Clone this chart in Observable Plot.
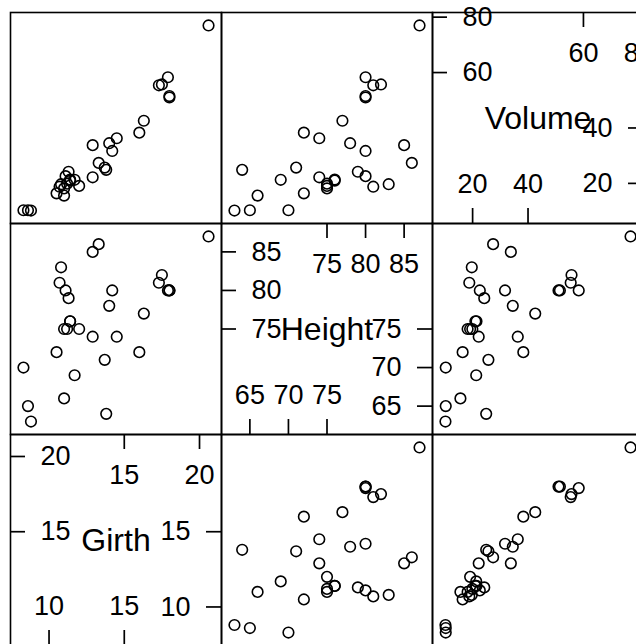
<!DOCTYPE html>
<html>
<head>
<meta charset="utf-8">
<script src="https://cdn.jsdelivr.net/npm/d3@7"></script>
<script src="https://cdn.jsdelivr.net/npm/@observablehq/plot@0.6"></script>
<style>
  html, body { margin: 0; padding: 0; background: white; }
  #chart { position: relative; width: 636px; height: 644px; overflow: hidden; background: white; }
  .panel { position: absolute; width: 211px; height: 211px; }
  .panel svg { overflow: visible !important; background: none !important; max-width: none !important; }
</style>
</head>
<body>
<div id="chart"></div>
<script>
// trees data
const girth  = [8.3, 8.6, 8.8, 10.5, 10.7, 10.8, 11.0, 11.0, 11.1, 11.2, 11.3, 11.4, 11.4, 11.7, 12.0, 12.9, 12.9, 13.3, 13.7, 13.8, 14.0, 14.2, 14.5, 16.0, 16.3, 17.3, 17.5, 17.9, 18.0, 18.0, 20.6];
const height = [70, 65, 63, 72, 81, 83, 66, 75, 80, 75, 79, 76, 76, 69, 75, 74, 85, 86, 71, 64, 78, 80, 74, 72, 77, 81, 82, 80, 80, 80, 87];
const volume = [10.3, 10.3, 10.2, 16.4, 18.8, 19.7, 15.6, 18.2, 22.6, 19.9, 24.2, 21.0, 21.4, 21.3, 19.1, 22.2, 33.8, 27.4, 25.7, 24.9, 34.5, 31.7, 36.3, 38.3, 42.6, 55.4, 55.7, 58.3, 51.5, 51.0, 77.0];

const varNames = ["Girth", "Height", "Volume"];
const girthTicks  = [10, 15, 20];
const heightTicks = [65, 70, 75, 80, 85];
const volumeTicks = [20, 40, 60, 80];

const columns = [girth, height, volume];
const tickSets = [girthTicks, heightTicks, volumeTicks];

const FONT = "'Liberation Sans', Arial, Helvetica, sans-serif";
const P = 211, X0 = 10, Y0 = 12, TICK = 15;

function limits(v) {
  const [a, b] = d3.extent(v);
  const e = (b - a) * 0.07;
  return [a - e, b + e];
}
const doms = columns.map(limits);
const chart = document.getElementById("chart");

function place(node, r, c) {
  const div = document.createElement("div");
  div.className = "panel";
  div.style.left = (X0 + c * P) + "px";
  div.style.top = (Y0 + r * P) + "px";
  div.appendChild(node);
  chart.appendChild(div);
}

for (let r = 0; r < 3; r++) {
  for (let c = 0; c < 3; c++) {
    const yi = 2 - r, xi = c;
    let marks;
    if (xi === yi) {
      const t = tickSets[xi];
      const lower = t.slice(0, Math.ceil(t.length / 2));
      const upper = t.slice(Math.floor(t.length / 2));
      const ts = {stroke: "black", strokeWidth: 1.7};
      const tx = {fontSize: 27, fontFamily: FONT, fill: "black", lineAnchor: "middle"};
      marks = [
        Plot.tickX(lower, {x: d => d, insetTop: P - TICK, ...ts}),
        Plot.tickX(upper, {x: d => d, insetBottom: P - TICK, ...ts}),
        Plot.tickY(upper, {y: d => d, insetRight: P - TICK, ...ts}),
        Plot.tickY(lower, {y: d => d, insetLeft: P - TICK, ...ts}),
        Plot.text(lower, {x: d => d, text: d => String(d), frameAnchor: "bottom", dy: -39, ...tx}),
        Plot.text(upper, {x: d => d, text: d => String(d), frameAnchor: "top", dy: 41, ...tx}),
        Plot.text(upper, {y: d => d, text: d => String(d), frameAnchor: "left", textAnchor: "start", dx: 30, ...tx}),
        Plot.text(lower, {y: d => d, text: d => String(d), frameAnchor: "right", textAnchor: "end", dx: -31, ...tx}),
        Plot.text([varNames[xi]], {text: d => d, frameAnchor: "middle", fontSize: 32, fontFamily: FONT, fill: "black", lineAnchor: "middle", dy: 1}),
        Plot.frame({stroke: "black", strokeWidth: 1.6})
      ];
    } else {
      const rows = girth.map((_, i) => ({x: columns[xi][i], y: columns[yi][i]}));
      marks = [
        Plot.dot(rows, {x: "x", y: "y", r: 5.3, stroke: "black", fill: "none", strokeWidth: 1.6}),
        Plot.frame({stroke: "black", strokeWidth: 1.6})
      ];
    }
    const plot = Plot.plot({
      width: P, height: P, margin: 0,
      x: {domain: doms[xi], axis: null},
      y: {domain: doms[yi], axis: null},
      style: {background: "none", overflow: "visible"},
      marks
    });
    place(plot, r, c);
  }
}
</script>
</body>
</html>
